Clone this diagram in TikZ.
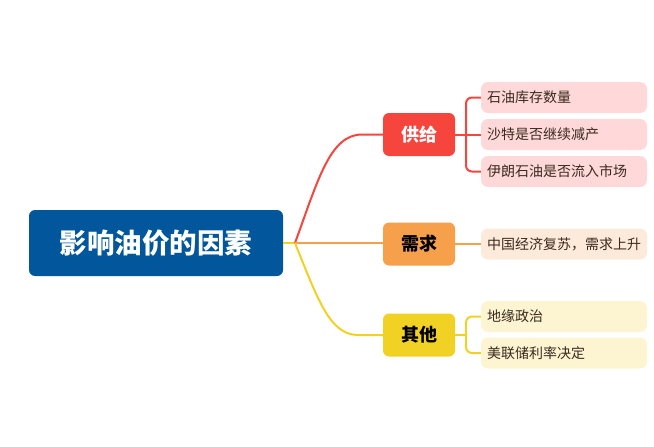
\documentclass[tikz,border=0pt]{standalone}
\usepackage{fontspec}
\setmainfont{Noto Sans CJK SC}
\definecolor{rootblue}{HTML}{02569B}
\definecolor{cred}{HTML}{F6453D}
\definecolor{corange}{HTML}{F6A04B}
\definecolor{cyellow}{HTML}{F2D125}
\definecolor{lred}{HTML}{FFD9D9}
\definecolor{lorange}{HTML}{FDEADB}
\definecolor{lyellow}{HTML}{FDF4D2}
\definecolor{leaftext}{HTML}{3A2A1E}
\tikzset{
  rootbox/.style={fill=rootblue, rounded corners=6pt, minimum width=254pt, minimum height=66pt, text=white, font=\fontsize{27.5}{32}\selectfont\bfseries, inner sep=0pt},
  catbox/.style={rounded corners=6pt, minimum width=72pt, minimum height=43pt, font=\fontsize{18}{21}\selectfont\bfseries, inner sep=0pt},
  leafbox/.style={rounded corners=7pt, minimum width=166pt, minimum height=31pt, text width=154pt, align=left, font=\fontsize{14}{17}\selectfont, text=leaftext, inner sep=0pt},
  conn/.style={line width=2pt},
}
\begin{document}
\begin{tikzpicture}[x=1pt,y=-1pt]
\useasboundingbox (0,0) rectangle (654,447);
% root
\node[rootbox] (root) at (156,243) {影响油价的因素};
\coordinate (j) at (295,243);
% categories
\node[catbox, fill=cred, text=white] (supply) at (419,134.5) {供给};
\node[catbox, fill=corange, text=black] (demand) at (419,244) {需求};
\node[catbox, fill=cyellow, text=black] (other) at (419,335) {其他};
% leaves
\node[leafbox, fill=lred] (l1) at (564,97.5) {石油库存数量};
\node[leafbox, fill=lred] (l2) at (564,134.5) {沙特是否继续减产};
\node[leafbox, fill=lred] (l3) at (564,171.5) {伊朗石油是否流入市场};
\node[leafbox, fill=lorange] (l4) at (564,244) {中国经济复苏，需求上升};
\node[leafbox, fill=lyellow] (l5) at (564,316.5) {地缘政治};
\node[leafbox, fill=lyellow] (l6) at (564,353) {美联储利率决定};
% root to junction
\draw[conn, cyellow] (root.east) -- (j);
% main curves
\draw[conn, cred] (j) .. controls (318,180) and (330,134.5) .. (362,134.5) -- (supply.west);
\draw[conn, corange] (j) -- (j -| demand.west);
\draw[conn, cyellow] (j) .. controls (318,300) and (330,335) .. (358,335) -- (other.west);
% brackets
\coordinate (bs) at (466,134.5);
\draw[conn, cred] (supply.east) -- (bs);
\draw[conn, cred, rounded corners=6pt] (l1.west) -- (bs |- l1.west) -- (bs |- l3.west) -- (l3.west);
\draw[conn, cred] (bs) -- (l2.west);
\draw[conn, corange] (demand.east) -- (l4.west);
\coordinate (bo) at (466,335);
\draw[conn, cyellow] (other.east) -- (bo);
\draw[conn, cyellow, rounded corners=6pt] (l5.west) -- (bo |- l5.west) -- (bo |- l6.west) -- (l6.west);
\end{tikzpicture}
\end{document}
